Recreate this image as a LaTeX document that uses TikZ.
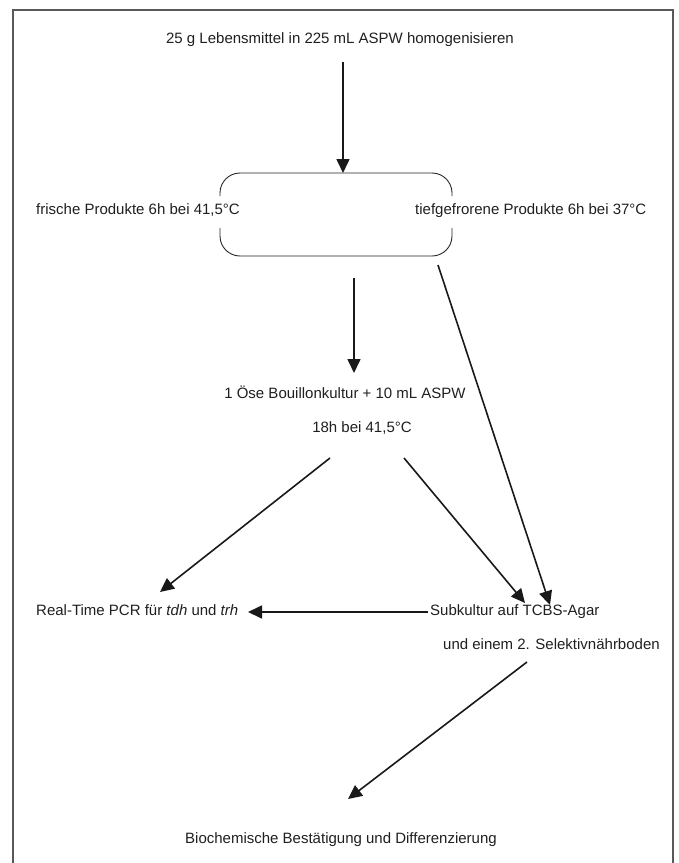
\documentclass[tikz,border=0pt]{standalone}
\usepackage{fontspec}
\setmainfont{Liberation Sans}
\usetikzlibrary{arrows.meta}
\begin{document}
\begin{tikzpicture}[x=1pt,y=-1pt,
  txt/.style={inner sep=0pt,font=\fontsize{15}{17}\selectfont,text=black!88},
  flow/.style={line width=1.6pt,draw=black!90,-{Triangle[length=14pt,width=13pt]}},
  brk/.style={line width=0.9pt,draw=black!85,rounded corners=20pt},
  frame/.style={line width=1.4pt,draw=black!65}]
\useasboundingbox (0,0) rectangle (679,863);
% frame (open at the bottom)
\draw[frame] (13,863) -- (13,10) -- (673,10) -- (673,863);
% texts
\node[txt,anchor=mid] (t1) at (340,41) {25 g Lebensmittel in 225 mL ASPW homogenisieren};
\node[txt,anchor=mid west] (fr) at (36,212) {frische Produkte 6h bei 41,5°C};
\node[txt,anchor=mid west] (tg) at (415,212) {tiefgefrorene Produkte 6h bei 37°C};
\node[txt,anchor=mid] (oese) at (345,396) {1 Öse Bouillonkultur + 10 mL ASPW};
\node[txt,anchor=mid] (h18) at (362,430) {18h bei 41,5°C};
\node[txt,anchor=mid west] (pcr) at (36,613) {Real-Time PCR für \textit{tdh} und \textit{trh}};
\node[txt,anchor=mid west] (sub) at (430,613) {Subkultur auf TCBS-Agar};
\node[txt,anchor=mid west] (sel) at (443,647) {und einem 2. Selektivnährboden};
\node[txt,anchor=mid] (bio) at (341,841) {Biochemische Bestätigung und Differenzierung};
% bracket
\draw[brk] (220,196) -- (220,173) -- (452,173) -- (452,196);
\draw[brk] (220,228) -- (220,256) -- (452,256) -- (452,228);
% connector end points
\coordinate (a1s) at (343,62);   \coordinate (a1e) at (343,173);
\coordinate (a2s) at (354,278);  \coordinate (a2e) at (354,373);
\coordinate (a3s) at (438,265);  \coordinate (a3e) at (550,605);
\coordinate (a4s) at (330,458);  \coordinate (a4e) at (160,592);
\coordinate (a5s) at (404,458);  \coordinate (a5e) at (525,603);
\coordinate (a6s) at (428,612);  \coordinate (a6e) at (248,612);
\coordinate (a7s) at (527,662);  \coordinate (a7e) at (348,799);
% connectors
\draw[flow] (a1s) -- (a1e);
\draw[flow] (a2s) -- (a2e);
\draw[flow] (a3s) -- (a3e);
\draw[flow] (a4s) -- (a4e);
\draw[flow] (a5s) -- (a5e);
\draw[flow] (a6s) -- (a6e);
\draw[flow] (a7s) -- (a7e);
\end{tikzpicture}
\end{document}
